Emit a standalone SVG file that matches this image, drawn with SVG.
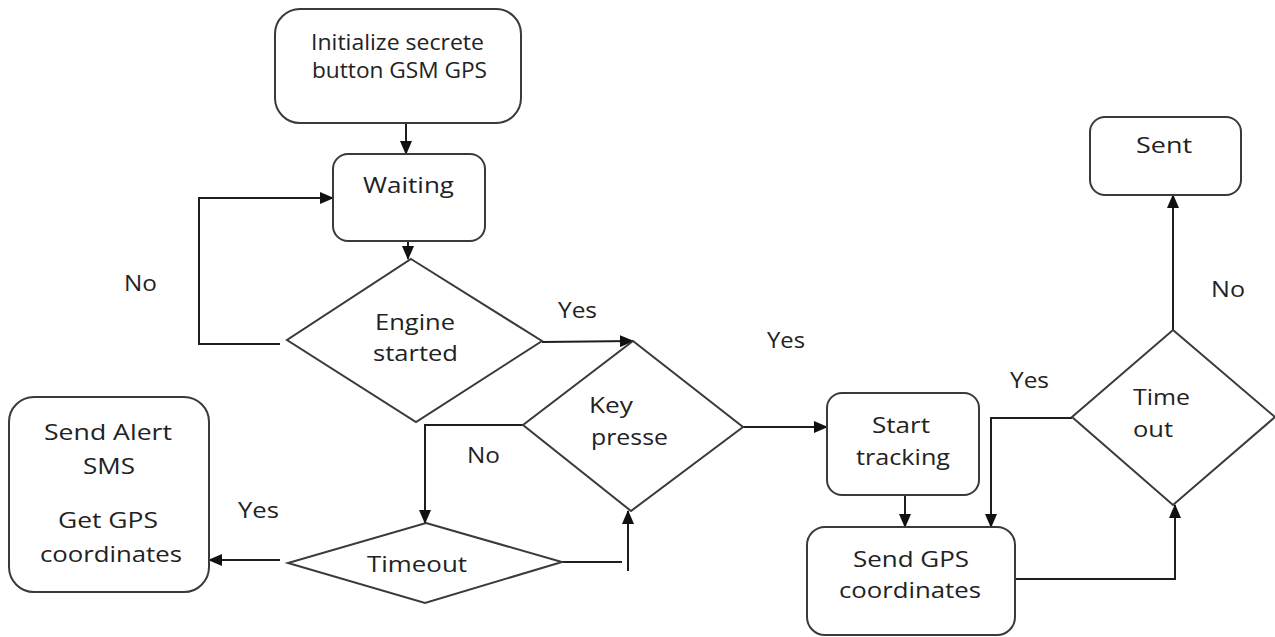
<svg xmlns="http://www.w3.org/2000/svg" width="1275" height="637" viewBox="0 0 1275 637">
<style>
.box{fill:#fff;stroke:#3a3a3a;stroke-width:2}
.dia{fill:#fff;stroke:#3a3a3a;stroke-width:2}
.ln{fill:none;stroke:#1e1e1e;stroke-width:2}
text{font-family:"Open Sans","Liberation Sans",sans-serif;font-size:22px;fill:#222}
</style>
<defs>
<marker id="ah" markerUnits="userSpaceOnUse" markerWidth="14" markerHeight="12" refX="13" refY="6" orient="auto">
<path d="M0,0 L14,6 L0,12 Z" fill="#111"/>
</marker>
</defs>
<rect width="1275" height="637" fill="#fff"/>
<g id="connectors">
<path class="ln" d="M406,123 L406,154" marker-end="url(#ah)"/>
<path class="ln" d="M408,241 L408,259" marker-end="url(#ah)"/>
<path class="ln" d="M280,344 L199,344 L199,198 L333,198" marker-end="url(#ah)"/>
<path class="ln" d="M542,342 L633,341" marker-end="url(#ah)"/>
<path class="ln" d="M523,425 L425,425 L425,523" marker-end="url(#ah)"/>
<path class="ln" d="M280,560 L209,560" marker-end="url(#ah)"/>
<path class="ln" d="M562,562 L622,562"/>
<path class="ln" d="M628,571 L628,511" marker-end="url(#ah)"/>
<path class="ln" d="M743,427 L827,427" marker-end="url(#ah)"/>
<path class="ln" d="M905,495 L905,527" marker-end="url(#ah)"/>
<path class="ln" d="M1072,418 L991,418 L991,527" marker-end="url(#ah)"/>
<path class="ln" d="M1015,579 L1175,579 L1175,505" marker-end="url(#ah)"/>
<path class="ln" d="M1173,330 L1173,195" marker-end="url(#ah)"/>
</g>
<g id="init">
<rect class="box" x="275" y="9" width="246" height="114" rx="25"/>
<text x="311" y="50" textLength="173" lengthAdjust="spacingAndGlyphs">Initialize secrete</text>
<text x="312" y="78" textLength="175" lengthAdjust="spacingAndGlyphs">button GSM GPS</text>
</g>
<g id="waiting">
<rect class="box" x="333" y="154" width="152" height="87" rx="15"/>
<text x="363" y="193" textLength="91" lengthAdjust="spacingAndGlyphs">Waiting</text>
</g>
<g id="engine">
<polygon class="dia" points="411,259 542,341 416,422 287,340"/>
<text x="375" y="330" textLength="80" lengthAdjust="spacingAndGlyphs">Engine</text>
<text x="373" y="361" textLength="85" lengthAdjust="spacingAndGlyphs">started</text>
</g>
<g id="keypresse">
<polygon class="dia" points="633,341 743,427 631,511 523,425"/>
<text x="589" y="413" textLength="44" lengthAdjust="spacingAndGlyphs">Key</text>
<text x="591" y="445" textLength="77" lengthAdjust="spacingAndGlyphs">presse</text>
</g>
<g id="timeout">
<polygon class="dia" points="426,523 562,562 425,603 288,563"/>
<text x="367" y="572" textLength="100" lengthAdjust="spacingAndGlyphs">Timeout</text>
</g>
<g id="sendalert">
<rect class="box" x="9" y="397" width="200" height="195" rx="25"/>
<text x="44" y="440" textLength="128" lengthAdjust="spacingAndGlyphs">Send Alert</text>
<text x="83" y="474" textLength="52" lengthAdjust="spacingAndGlyphs">SMS</text>
<text x="58" y="528" textLength="100" lengthAdjust="spacingAndGlyphs">Get GPS</text>
<text x="40" y="562" textLength="142" lengthAdjust="spacingAndGlyphs">coordinates</text>
</g>
<g id="starttracking">
<rect class="box" x="827" y="393" width="152" height="102" rx="15"/>
<text x="872" y="433" textLength="58" lengthAdjust="spacingAndGlyphs">Start</text>
<text x="856" y="465" textLength="94" lengthAdjust="spacingAndGlyphs">tracking</text>
</g>
<g id="sendgps">
<rect class="box" x="807" y="527" width="208" height="108" rx="18"/>
<text x="853" y="567" textLength="116" lengthAdjust="spacingAndGlyphs">Send GPS</text>
<text x="839" y="598" textLength="142" lengthAdjust="spacingAndGlyphs">coordinates</text>
</g>
<g id="timeout2">
<polygon class="dia" points="1173,330 1275,417 1173,505 1072,417"/>
<text x="1133" y="405" textLength="57" lengthAdjust="spacingAndGlyphs">Time</text>
<text x="1133" y="437" textLength="40" lengthAdjust="spacingAndGlyphs">out</text>
</g>
<g id="sent">
<rect class="box" x="1090" y="117" width="151" height="78" rx="15"/>
<text x="1136" y="153" textLength="56" lengthAdjust="spacingAndGlyphs">Sent</text>
</g>
<g id="labels">
<text x="124" y="291" textLength="33" lengthAdjust="spacingAndGlyphs">No</text>
<text x="558" y="318" textLength="39" lengthAdjust="spacingAndGlyphs">Yes</text>
<text x="767" y="348" textLength="38" lengthAdjust="spacingAndGlyphs">Yes</text>
<text x="467" y="463" textLength="33" lengthAdjust="spacingAndGlyphs">No</text>
<text x="238" y="518" textLength="41" lengthAdjust="spacingAndGlyphs">Yes</text>
<text x="1211" y="297" textLength="34" lengthAdjust="spacingAndGlyphs">No</text>
<text x="1010" y="388" textLength="39" lengthAdjust="spacingAndGlyphs">Yes</text>
</g>
</svg>
